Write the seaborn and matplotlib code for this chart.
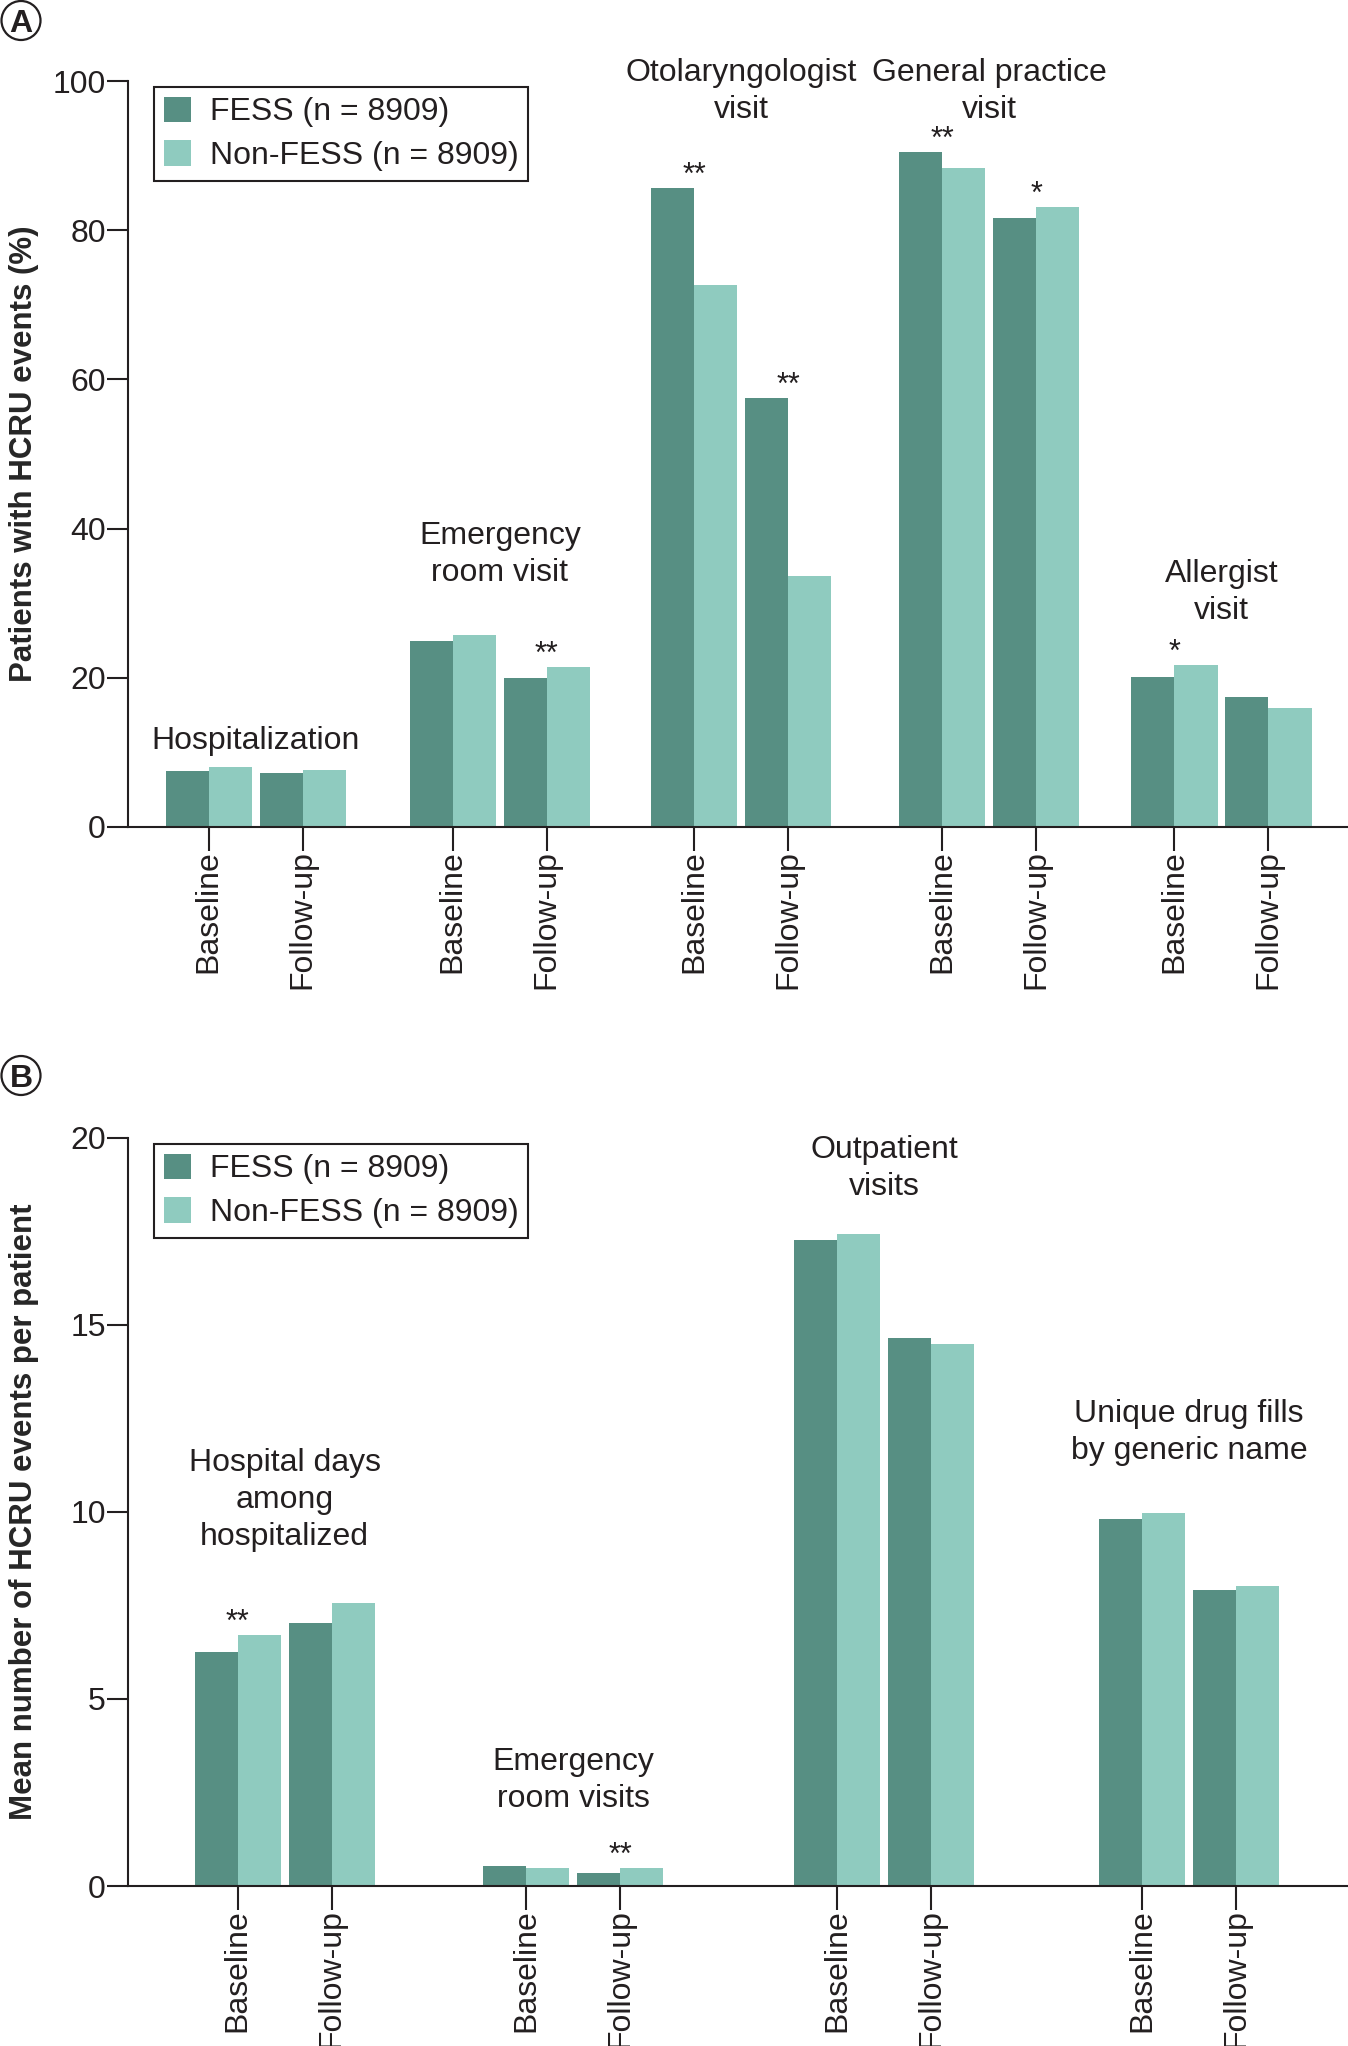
import numpy as np
import pandas as pd
import matplotlib
matplotlib.use('Agg')
import matplotlib.pyplot as plt
from matplotlib.patches import Circle
import seaborn as sns

# data
periods = ['Baseline', 'Follow-up']
cohorts = ['FESS (n = 8909)', 'Non-FESS (n = 8909)']

# panel A: patients with HCRU events (%), order = cat0 baseline, cat0 follow-up, cat1 baseline ...
cats_a = ['Hospitalization', 'Emergency\nroom visit', 'Otolaryngologist\nvisit',
          'General practice\nvisit', 'Allergist\nvisit']
fess_a = [7.5, 7.2, 24.9, 20.0, 85.6, 57.5, 90.5, 81.7, 20.1, 17.4]
non_a = [8.0, 7.7, 25.7, 21.5, 72.6, 33.6, 88.4, 83.1, 21.7, 15.9]
stars_a = ['', '', '', '**', '**', '**', '**', '*', '*', '']

# panel B: mean number of HCRU events per patient
cats_b = ['Hospital days\namong\nhospitalized', 'Emergency\nroom visits',
          'Outpatient\nvisits', 'Unique drug fills\nby generic name']
fess_b = [6.25, 7.03, 0.53, 0.35, 17.28, 14.66, 9.81, 7.92]
non_b = [6.72, 7.57, 0.47, 0.47, 17.42, 14.49, 9.96, 8.03]
stars_b = ['**', '', '', '**', '', '', '', '']

# layout
offsets_a = [0, 2.597, 5.167, 7.806, 10.278]
offsets_b = [0, 3.07, 6.38, 9.63]
label_y_a = [11.5, 36.5, 98.6, 98.6, 31.4]
label_y_b = [10.33, 2.81, 19.18, 12.13]

dark = '#578f83'
light = '#8fcbbf'
txt = '#231f20'
fs = 23

sns.set_style('ticks')
plt.rcParams['font.family'] = ['Liberation Sans', 'DejaVu Sans']
plt.rcParams['text.color'] = txt
plt.rcParams['axes.edgecolor'] = txt
plt.rcParams['xtick.color'] = txt
plt.rcParams['ytick.color'] = txt


def make_df(cats, fess, non, offsets):
    rows = []
    for g in range(len(cats)):
        for p in range(2):
            i = g * 2 + p
            rows.append({'pos': offsets[g] + p, 'value': fess[i], 'cohort': cohorts[0]})
            rows.append({'pos': offsets[g] + p, 'value': non[i], 'cohort': cohorts[1]})
    return pd.DataFrame(rows)


def draw(ax, cats, fess, non, stars, offsets, label_y, ymax, yticks, xlim, ylabel):
    df = make_df(cats, fess, non, offsets)
    sns.barplot(data=df, x='pos', y='value', hue='cohort', native_scale=True,
                width=0.917, palette=[dark, light], errorbar=None, linewidth=0,
                saturation=1, ax=ax)
    pos = [offsets[g] + p for g in range(len(cats)) for p in range(2)]
    ax.set_xticks(pos)
    ax.set_xticklabels(periods * len(cats), rotation=90, fontsize=fs)
    ax.set_xlim(*xlim)
    ax.set_ylim(0, ymax)
    ax.set_yticks(yticks)
    ax.set_yticklabels([str(t) for t in yticks], fontsize=fs)
    ax.set_xlabel('')
    ax.set_ylabel(ylabel, fontsize=22.5, fontweight='bold')
    ax.yaxis.set_label_coords(-0.073, 0.5)
    ax.tick_params(axis='both', width=1.5)
    ax.tick_params(axis='y', pad=1, length=15)
    ax.tick_params(axis='x', pad=0, length=17)
    for s in ['top', 'right']:
        ax.spines[s].set_visible(False)
    for s in ['left', 'bottom']:
        ax.spines[s].set_linewidth(1.5)

    for g, c in enumerate(cats):
        ax.text(offsets[g] + 0.5, label_y[g], c, ha='center', va='center',
                fontsize=fs, linespacing=1.3)
    for i, s in enumerate(stars):
        if s:
            top = max(fess[i], non[i])
            ax.annotate(s, xy=(pos[i], top), xytext=(0, 3), textcoords='offset points',
                        ha='center', va='baseline', fontsize=22)

    h, l = ax.get_legend_handles_labels()
    leg = ax.legend(h, l, loc='upper left', bbox_to_anchor=(0.0213, 0.992), borderaxespad=0,
                    fontsize=fs, frameon=True, fancybox=False, edgecolor=txt, framealpha=1,
                    handlelength=0.85, handleheight=0.85, handletextpad=0.6,
                    borderpad=0.3, labelspacing=0.4)
    leg.get_frame().set_linewidth(1.5)


fig = plt.figure(figsize=(13.48, 20.46), dpi=100)
ax_a = fig.add_axes([0.095, 0.5958, 0.905, 0.3646])
ax_b = fig.add_axes([0.095, 0.0782, 0.905, 0.3656])

draw(ax_a, cats_a, fess_a, non_a, stars_a, offsets_a, label_y_a, 100,
     [0, 20, 40, 60, 80, 100], (-0.86, 12.125), 'Patients with HCRU events (%)')
draw(ax_b, cats_b, fess_b, non_b, stars_b, offsets_b, label_y_b, 20,
     [0, 5, 10, 15, 20], (-1.167, 11.82), 'Mean number of HCRU events per patient')

# circled panel letters, placed in inches from the bottom-left corner
for letter, cy in [('A', 20.46 - 0.205), ('B', 20.46 - 10.755)]:
    fig.add_artist(Circle((0.21, cy), 0.195, transform=fig.dpi_scale_trans,
                          fc='white', ec=txt, lw=1.6))
    fig.text(0.21, cy - 0.115, letter, transform=fig.dpi_scale_trans, ha='center',
             va='baseline', fontsize=23, fontweight='bold')

fig.savefig('out.png', dpi=100)
